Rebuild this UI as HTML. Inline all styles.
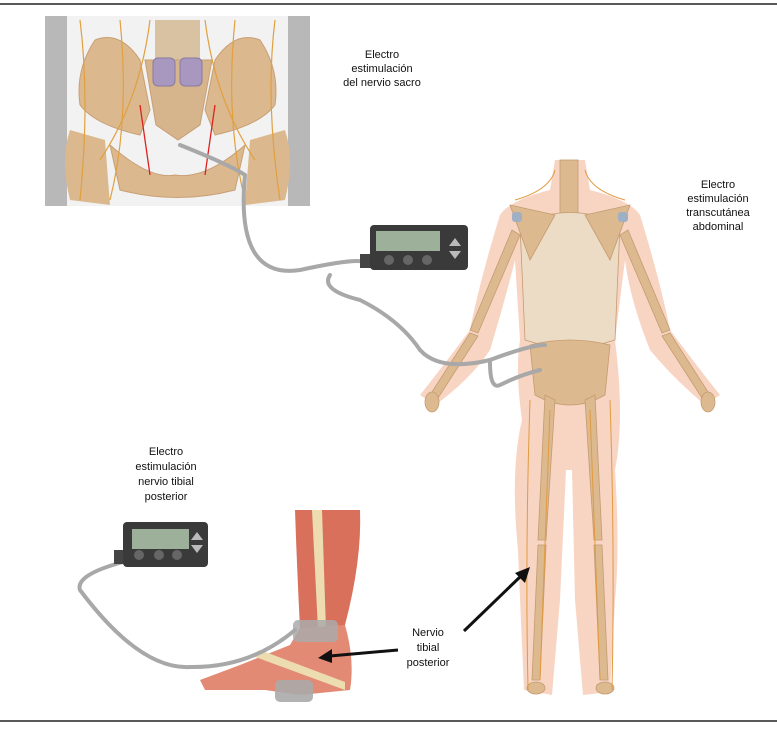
<!DOCTYPE html>
<html><head><meta charset="utf-8"><style>
body{margin:0;background:#fff;}
svg{display:block}
text{font-family:"Liberation Sans",sans-serif;font-size:11px;fill:#111;text-anchor:middle;}
</style></head><body>
<svg width="777" height="733" viewBox="0 0 777 733" xmlns="http://www.w3.org/2000/svg">
<line x1="0" y1="4" x2="777" y2="4" stroke="#222" stroke-width="1.5"/>
<line x1="0" y1="721" x2="777" y2="721" stroke="#222" stroke-width="1.5"/>

<rect x="45" y="16" width="265" height="190" fill="#e4e4e4"/>
<rect x="45" y="16" width="22" height="190" fill="#b8b8b8"/>
<rect x="288" y="16" width="22" height="190" fill="#b8b8b8"/>
<rect x="67" y="16" width="221" height="190" fill="#f2f2f2"/>
<path d="M95 40 Q75 70 80 105 Q95 125 140 135 L150 110 L140 60 Q120 30 95 40Z" fill="#dcb88f" stroke="#c89f74"/>
<path d="M260 40 Q280 70 275 105 Q260 125 215 135 L205 110 L215 60 Q235 30 260 40Z" fill="#dcb88f" stroke="#c89f74"/>
<rect x="155" y="20" width="45" height="40" fill="#d8c2a2"/>
<path d="M145 60 L212 60 L200 125 L178 140 L156 125Z" fill="#d6b48c" stroke="#c89f74"/>
<rect x="153" y="58" width="22" height="28" rx="5" fill="#a898c0" stroke="#8a7aa3"/>
<rect x="180" y="58" width="22" height="28" rx="5" fill="#a898c0" stroke="#8a7aa3"/>
<path d="M70 130 Q60 160 70 200 L110 205 L105 140Z" fill="#dcb88f"/>
<path d="M285 130 Q295 160 285 200 L245 205 L250 140Z" fill="#dcb88f"/>
<path d="M110 145 Q150 180 175 175 Q205 180 245 145 L235 190 Q178 205 120 190Z" fill="#dcb88f" stroke="#c89f74"/>
<g stroke="#e0a040" stroke-width="1.2" fill="none">
<path d="M80 20 Q90 100 80 200"/><path d="M275 20 Q265 100 280 200"/>
<path d="M120 20 Q130 120 110 200"/><path d="M235 20 Q225 120 245 200"/>
<path d="M150 20 Q140 100 100 160"/><path d="M205 20 Q215 100 255 160"/>
</g>
<path d="M140 105 L150 175 M215 105 L205 175" stroke="#d22" stroke-width="1.3" fill="none"/>

<g fill="#f7cdb8" opacity="0.85">
<path d="M555 160 L585 160 L590 190 Q630 200 640 215 Q660 280 670 330 Q700 370 720 395 L705 405 Q675 380 650 350 Q630 300 625 260 L615 340 Q625 420 615 470 Q620 550 615 600 L610 692 L583 695 L575 600 L572 470 L566 470 L560 600 L552 695 L524 690 Q520 600 518 550 Q510 470 522 420 Q515 370 520 340 L515 260 Q505 300 490 350 Q470 380 435 405 L420 395 Q440 370 470 330 Q480 280 500 215 Q510 200 550 190Z"/>
</g>
<g fill="#ddb990" stroke="#c49b70" stroke-width="0.8">
<rect x="560" y="160" width="18" height="190"/>
<path d="M520 225 Q570 200 620 225 L615 340 Q570 355 525 340Z" fill="#ecdcc5"/>
<path d="M510 205 L555 215 L530 260Z"/><path d="M630 205 L585 215 L610 260Z"/>
<path d="M530 345 Q570 335 610 345 L605 395 Q570 415 535 395Z"/>
<path d="M512 230 L470 330 L478 333 L520 235Z"/><path d="M628 230 L670 330 L662 333 L620 235Z"/>
<path d="M470 333 L430 395 L438 398 L478 336Z"/><path d="M670 333 L710 395 L702 398 L662 336Z"/>
<path d="M545 395 L538 540 L546 540 L555 400Z"/><path d="M595 395 L602 540 L594 540 L585 400Z"/>
<path d="M538 545 L532 680 L540 680 L546 545Z"/><path d="M602 545 L608 680 L600 680 L594 545Z"/>
<ellipse cx="536" cy="688" rx="9" ry="6"/><ellipse cx="605" cy="688" rx="9" ry="6"/>
<ellipse cx="432" cy="402" rx="7" ry="10"/><ellipse cx="708" cy="402" rx="7" ry="10"/>
</g>
<rect x="512" y="212" width="10" height="10" rx="3" fill="#9fb0c4"/>
<rect x="618" y="212" width="10" height="10" rx="3" fill="#9fb0c4"/>
<g stroke="#e09a40" stroke-width="1" fill="none">
<path d="M555 170 Q550 190 515 200"/><path d="M585 170 Q590 190 625 200"/>
<path d="M530 400 Q525 550 528 690"/><path d="M610 400 Q615 550 612 690"/>
<path d="M550 410 Q545 550 540 680"/><path d="M590 410 Q595 550 600 680"/>
</g>

<path d="M295 510 L360 510 Q362 560 345 625 L330 628 L300 628 Q297 570 295 510Z" fill="#d9705c"/>
<path d="M312 510 L318 630 L326 630 L322 510Z" fill="#ecdcb0"/>
<path d="M300 628 L345 625 Q355 660 350 690 L300 695 L265 690 L230 690 L205 690 L200 680 L240 665 L290 645Z" fill="#e38a74"/>
<path d="M250 655 L345 690 L345 682 L260 650Z" fill="#ecdcb0"/>
<rect x="293" y="620" width="45" height="22" rx="5" fill="#aaa" opacity="0.85"/>
<rect x="275" y="680" width="38" height="22" rx="5" fill="#aaa" opacity="0.9"/>

<g stroke="#a8a8a8" stroke-width="4" fill="none" stroke-linecap="round">
<path d="M180 145 Q230 165 245 175 Q235 280 300 270 Q355 258 365 262"/>
<path d="M330 275 Q320 290 360 300 Q400 320 420 350 Q440 372 490 360 Q530 345 545 345"/>
<path d="M490 362 Q490 390 500 385 Q520 375 540 370"/>
<path d="M123 562 Q75 575 80 590 Q140 670 190 667 Q250 668 295 630"/>
</g>

<g>
<rect x="360" y="254" width="12" height="14" fill="#444"/>
<rect x="370" y="225" width="98" height="45" rx="4" fill="#3a3a3a"/>
<rect x="376" y="231" width="64" height="20" fill="#9db09a"/>
<circle cx="389" cy="260" r="5" fill="#666"/><circle cx="408" cy="260" r="5" fill="#666"/><circle cx="427" cy="260" r="5" fill="#666"/>
<path d="M449 246 L455 238 L461 246Z M449 251 L461 251 L455 259Z" fill="#bbb"/>
</g>
<g>
<rect x="114" y="550" width="12" height="14" fill="#444"/>
<rect x="123" y="522" width="85" height="45" rx="4" fill="#3a3a3a"/>
<rect x="132" y="529" width="57" height="20" fill="#9db09a"/>
<circle cx="139" cy="555" r="5" fill="#666"/><circle cx="159" cy="555" r="5" fill="#666"/><circle cx="177" cy="555" r="5" fill="#666"/>
<path d="M191 540 L197 532 L203 540Z M191 545 L203 545 L197 553Z" fill="#bbb"/>
</g>

<g stroke="#111" stroke-width="3">
<line x1="398" y1="650" x2="330" y2="656"/>
<line x1="464" y1="631" x2="522" y2="575"/>
</g>
<path d="M318 658 L332 649 L332 663Z" fill="#111"/>
<path d="M530 567 L515 573 L525 583Z" fill="#111"/>

<text x="382" y="58">Electro</text><text x="382" y="72">estimulación</text><text x="382" y="86">del nervio sacro</text>
<text x="718" y="188">Electro</text><text x="718" y="202">estimulación</text><text x="718" y="216">transcutánea</text><text x="718" y="230">abdominal</text>
<text x="166" y="455">Electro</text><text x="166" y="470">estimulación</text><text x="166" y="485">nervio tibial</text><text x="166" y="500">posterior</text>
<text x="428" y="636">Nervio</text><text x="428" y="651">tibial</text><text x="428" y="666">posterior</text>
</svg>
</body></html>
